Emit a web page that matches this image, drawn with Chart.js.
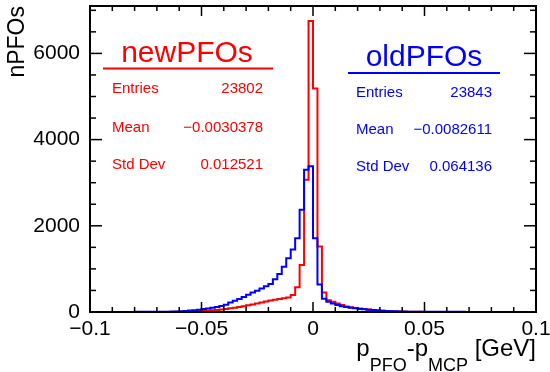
<!DOCTYPE html>
<html>
<head>
<meta charset="utf-8">
<script src="https://cdn.jsdelivr.net/npm/chart.js@4/dist/chart.umd.min.js"></script>
<style>
  html, body { margin: 0; padding: 0; background: #fff; }
  canvas { display: block; }
</style>
</head>
<body>
<canvas id="hist" width="550" height="372"></canvas>
<script>
// histogram binning: 100 bins of 0.002 GeV from -0.1 to 0.1
const X_MIN = -0.1;
const BIN_WIDTH = 0.002;

// newPFOs (red), counts per bin, left to right
const newCounts = [
  0, 0, 0, 0, 0, 0, 0, 0, 0, 1,
  1, 1, 1, 1, 1, 1, 2, 2, 2, 3,
  3, 5, 8, 12, 17, 23, 30, 38, 47, 57,
  70, 85, 100, 118, 135, 155, 175, 198, 222, 245,
  265, 285, 300, 318, 335, 395, 575, 1093, 3070, 6750,
  5186, 1519, 450, 270, 235, 200, 160, 130, 110, 95,
  80, 68, 57, 47, 38, 30, 24, 18, 14, 11,
  8, 6, 5, 4, 3, 2, 2, 2, 1, 1,
  1, 1, 1, 1, 1, 1, 0, 0, 0, 0,
  0, 0, 0, 0, 0, 0, 0, 0, 0, 0,
];

// oldPFOs (blue)
const oldCounts = [
  1, 1, 1, 1, 1, 2, 2, 2, 2, 2,
  3, 3, 3, 4, 4, 5, 6, 7, 9, 12,
  16, 23, 32, 43, 55, 68, 82, 97, 115, 140,
  170, 220, 260, 300, 350, 400, 450, 495, 545, 600,
  650, 760, 880, 1050, 1250, 1450, 1714, 2372, 3300, 3380,
  1714, 640, 310, 240, 195, 160, 135, 115, 98, 85,
  72, 62, 52, 44, 37, 30, 25, 20, 16, 13,
  10, 8, 7, 6, 5, 5, 4, 4, 4, 3,
  3, 3, 3, 3, 2, 2, 2, 2, 2, 2,
  2, 2, 2, 2, 2, 2, 2, 2, 2, 2,
];

const xTickValues = [-0.1, -0.05, 0, 0.05, 0.1];
const xTickLabels = ["\u22120.1", "\u22120.05", "0", "0.05", "0.1"];
const yTickValues = [0, 2000, 4000, 6000];
const yTickLabels = ["0", "2000", "4000", "6000"];

const statNames = ["Entries", "Mean", "Std Dev"];
const newStats = ["23802", "\u22120.0030378", "0.012521"];
const oldStats = ["23843", "\u22120.0082611", "0.064136"];

const FONT_FAMILY = '"Liberation Sans", Arial, Helvetica, sans-serif';

// bin left edges plus the closing right edge, for a stepped outline
function toSteps(counts) {
  const pts = counts.map((c, i) => ({ x: X_MIN + i * BIN_WIDTH, y: c }));
  pts.push({ x: X_MIN + counts.length * BIN_WIDTH, y: counts[counts.length - 1] });
  return pts;
}

// keep the plot frame where it is, whatever the edge labels need
function fixBox(size, prop) {
  return s => {
    s[prop] = size;
    s.paddingLeft = s.paddingRight = s.paddingTop = s.paddingBottom = 0;
  };
}

function drawStatBox(ctx, s) {
  ctx.save();
  ctx.fillStyle = s.color;
  ctx.strokeStyle = s.color;
  ctx.font = "30px " + FONT_FAMILY;
  ctx.textAlign = "center";
  ctx.textBaseline = "alphabetic";
  ctx.fillText(s.title, s.cx, s.titleY);

  ctx.lineWidth = 2;
  ctx.beginPath();
  ctx.moveTo(s.x0, s.lineY);
  ctx.lineTo(s.x1, s.lineY);
  ctx.stroke();

  ctx.font = "15px " + FONT_FAMILY;
  statNames.forEach((name, i) => {
    ctx.textAlign = "left";
    ctx.fillText(name, s.left, s.rows[i]);
    ctx.textAlign = "right";
    ctx.fillText(s.values[i], s.right, s.rows[i]);
  });
  ctx.restore();
}

const rootFrame = {
  id: "rootFrame",
  afterDatasetsDraw(chart) {
    const { ctx, chartArea: a, scales } = chart;
    const xs = scales.x, ys = scales.y;
    ctx.save();
    ctx.strokeStyle = "#000";

    // inward ticks on all four sides
    ctx.lineWidth = 1.5;
    const tick = (x1, y1, x2, y2) => {
      ctx.beginPath();
      ctx.moveTo(x1, y1);
      ctx.lineTo(x2, y2);
      ctx.stroke();
    };
    for (let v = 500; v < ys.max; v += 500) {
      const y = ys.getPixelForValue(v);
      const len = v % 2000 === 0 ? 12 : 6;
      tick(a.left, y, a.left + len, y);
      tick(a.right, y, a.right - len, y);
    }
    for (let k = -9; k <= 9; k++) {
      const x = xs.getPixelForValue(k * 0.01);
      const len = k % 5 === 0 ? 10 : 5;
      tick(x, a.bottom, x, a.bottom - len);
      tick(x, a.top, x, a.top + len);
    }

    ctx.lineWidth = 2;
    ctx.strokeRect(a.left, a.top, a.right - a.left, a.bottom - a.top);

    // x title with subscripts
    const parts = [
      { t: "p", sub: false },
      { t: "PFO", sub: true },
      { t: "-p", sub: false },
      { t: "MCP", sub: true },
      { t: " [GeV]", sub: false },
    ];
    const mainFont = "24px " + FONT_FAMILY;
    const subFont = "18px " + FONT_FAMILY;
    let total = 0;
    parts.forEach(p => {
      ctx.font = p.sub ? subFont : mainFont;
      p.w = ctx.measureText(p.t).width;
      total += p.w;
    });
    let x = 536 - total;
    ctx.fillStyle = "#000";
    ctx.textAlign = "left";
    ctx.textBaseline = "alphabetic";
    parts.forEach(p => {
      ctx.font = p.sub ? subFont : mainFont;
      ctx.fillText(p.t, x, p.sub ? 371 : 356);
      x += p.w;
    });
    ctx.restore();

    drawStatBox(ctx, {
      color: "#ff0000", title: "newPFOs", cx: 187, titleY: 62,
      x0: 103, x1: 273, lineY: 68.5,
      left: 112, right: 263, rows: [93, 132, 169], values: newStats,
    });
    drawStatBox(ctx, {
      color: "#0000ff", title: "oldPFOs", cx: 424, titleY: 66,
      x0: 348, x1: 500, lineY: 73,
      left: 356, right: 492, rows: [97, 134, 171], values: oldStats,
    });
  },
};

const tickFont = { family: FONT_FAMILY, size: 21 };

new Chart(document.getElementById("hist").getContext("2d"), {
  type: "line",
  data: {
    datasets: [
      {
        label: "oldPFOs",
        data: toSteps(oldCounts),
        borderColor: "#0000ff",
        borderWidth: 2,
        stepped: "before",
        pointRadius: 0,
        fill: false,
      },
      {
        label: "newPFOs",
        data: toSteps(newCounts),
        borderColor: "#ff0000",
        borderWidth: 2,
        stepped: "before",
        pointRadius: 0,
        fill: false,
      },
    ],
  },
  options: {
    responsive: false,
    animation: false,
    layout: { padding: { top: 6, right: 14, left: 0, bottom: 0 } },
    plugins: {
      legend: { display: false },
      tooltip: { enabled: false },
    },
    scales: {
      x: {
        type: "linear",
        min: -0.1,
        max: 0.1,
        grid: { display: false, drawTicks: false },
        border: { display: false },
        afterBuildTicks: s => { s.ticks = xTickValues.map(v => ({ value: v })); },
        afterFit: fixBox(60, "height"),
        ticks: {
          font: tickFont,
          color: "#000",
          padding: 5,
          maxRotation: 0,
          autoSkip: false,
          callback: (v, i) => xTickLabels[i],
        },
      },
      y: {
        type: "linear",
        min: 0,
        max: 7100,
        grid: { display: false, drawTicks: false },
        border: { display: false },
        afterBuildTicks: s => { s.ticks = yTickValues.map(v => ({ value: v })); },
        afterFit: fixBox(90, "width"),
        ticks: {
          font: tickFont,
          color: "#000",
          padding: 10,
          callback: (v, i) => yTickLabels[i],
        },
        title: {
          display: true,
          text: "nPFOs",
          align: "end",
          color: "#000",
          font: { family: FONT_FAMILY, size: 23 },
          padding: { top: 4, bottom: 0 },
        },
      },
    },
  },
  plugins: [rootFrame],
});
</script>
</body>
</html>
